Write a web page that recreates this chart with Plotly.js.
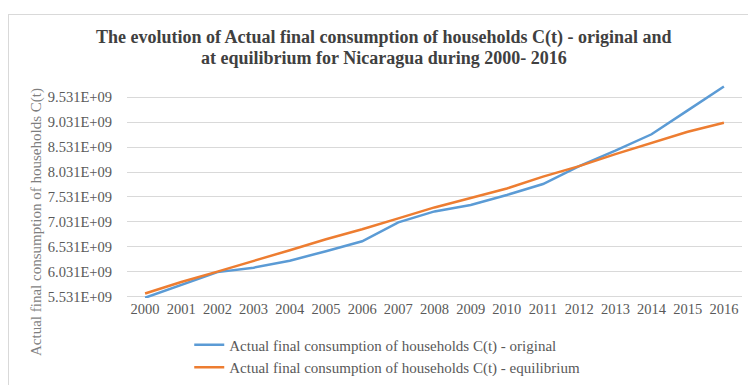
<!DOCTYPE html>
<html>
<head>
<meta charset="utf-8">
<script src="https://cdn.plot.ly/plotly-3.0.1.min.js"></script>
<style>
  html, body { margin: 0; padding: 0; background: #fff; }
  #wrap { position: relative; width: 748px; height: 385px; overflow: hidden; }
  #frame { position: absolute; left: 8px; top: 14px; width: 760px; height: 400px; border: 1px solid #d9d9d9; box-sizing: border-box; }
  #chart { position: absolute; left: 0; top: 0; width: 748px; height: 385px; }
</style>
</head>
<body>
<div id="wrap">
  <div id="frame"></div>
  <div id="chart"></div>
</div>
<script>
const years = [2000, 2001, 2002, 2003, 2004, 2005, 2006, 2007, 2008, 2009, 2010, 2011, 2012, 2013, 2014, 2015, 2016];
const original = [5.505e9, 5.77e9, 6.02e9, 6.11e9, 6.25e9, 6.44e9, 6.64e9, 7.02e9, 7.24e9, 7.37e9, 7.57e9, 7.79e9, 8.15e9, 8.46e9, 8.79e9, 9.27e9, 9.75e9];
const equilibrium = [5.59e9, 5.82e9, 6.03e9, 6.24e9, 6.46e9, 6.68e9, 6.88e9, 7.10e9, 7.32e9, 7.51e9, 7.70e9, 7.94e9, 8.15e9, 8.39e9, 8.62e9, 8.84e9, 9.02e9];
const yTickVals = [5.531e9, 6.031e9, 6.531e9, 7.031e9, 7.531e9, 8.031e9, 8.531e9, 9.031e9, 9.531e9];
const yTickText = ["5.531E+09", "6.031E+09", "6.531E+09", "7.031E+09", "7.531E+09", "8.031E+09", "8.531E+09", "9.031E+09", "9.531E+09"];
const nameOriginal = "Actual final consumption of households C(t) - original";
const nameEquilibrium = "Actual final consumption of households C(t) - equilibrium";
const titleLine1 = "The evolution of Actual final consumption of households C(t) - original and";
const titleLine2 = "at equilibrium for Nicaragua during 2000- 2016";
const yTitle = "Actual final consumption of households C(t)";

const serif = "Liberation Serif, Times New Roman, serif";

const traces = [
  { x: years, y: original, type: "scatter", mode: "lines", name: nameOriginal,
    line: { color: "#5B9BD5", width: 2.5 } },
  { x: years, y: equilibrium, type: "scatter", mode: "lines", name: nameEquilibrium,
    line: { color: "#ED7D31", width: 2.5 } }
];

// plot area: x 127..742 px, y 84..298 px
const PL = 127, PW = 615, PB = 298, PH = 214;
const px = (x) => (x - PL) / PW;
const py = (y) => (PB - y) / PH;

const layout = {
  width: 748, height: 385,
  paper_bgcolor: "rgba(0,0,0,0)",
  plot_bgcolor: "rgba(0,0,0,0)",
  margin: { l: 127, r: 6, t: 84, b: 87, autoexpand: false },
  font: { family: serif, color: "#595959", size: 12 },
  title: {
    text: titleLine1,
    font: { family: serif, size: 18, color: "#404040", weight: "bold" },
    x: 0.513, xref: "container", xanchor: "center",
    y: 1 - 37 / 385, yref: "container", yanchor: "middle"
  },
  xaxis: {
    range: [1999.5, 2016.5],
    tickvals: years,
    ticktext: years.map(String),
    tickangle: 0,
    showgrid: false, zeroline: false, showline: false,
    ticks: "",
    tickfont: { family: serif, size: 14.5, color: "#595959" }
  },
  yaxis: {
    range: [5.50e9, 9.80e9],
    tickvals: yTickVals,
    ticktext: yTickText,
    showgrid: true, gridcolor: "#d9d9d9", gridwidth: 1,
    zeroline: false, showline: false, ticks: "",
    ticklabelstandoff: 14,
    tickfont: { family: serif, size: 14.5, color: "#595959" }
  },
  showlegend: true,
  legend: {
    orientation: "v",
    xref: "container", yref: "container",
    x: 0.253, xanchor: "left",
    y: 0.147, yanchor: "top",
    font: { family: serif, size: 15, color: "#595959" },
    tracegroupgap: 0,
    itemwidth: 30,
    bgcolor: "rgba(0,0,0,0)"
  },
  annotations: [
    { text: titleLine2, xref: "paper", yref: "paper",
      x: px(384), y: py(58), xanchor: "center", yanchor: "middle",
      showarrow: false,
      font: { family: serif, size: 18, color: "#404040", weight: "bold" } },
    { text: yTitle, xref: "paper", yref: "paper",
      x: px(36), y: py(222), xanchor: "center", yanchor: "middle",
      showarrow: false, textangle: -90,
      font: { family: serif, size: 15, color: "#7f7f7f" } }
  ]
};

Plotly.newPlot("chart", traces, layout, { displayModeBar: false, staticPlot: true });
</script>
</body>
</html>
